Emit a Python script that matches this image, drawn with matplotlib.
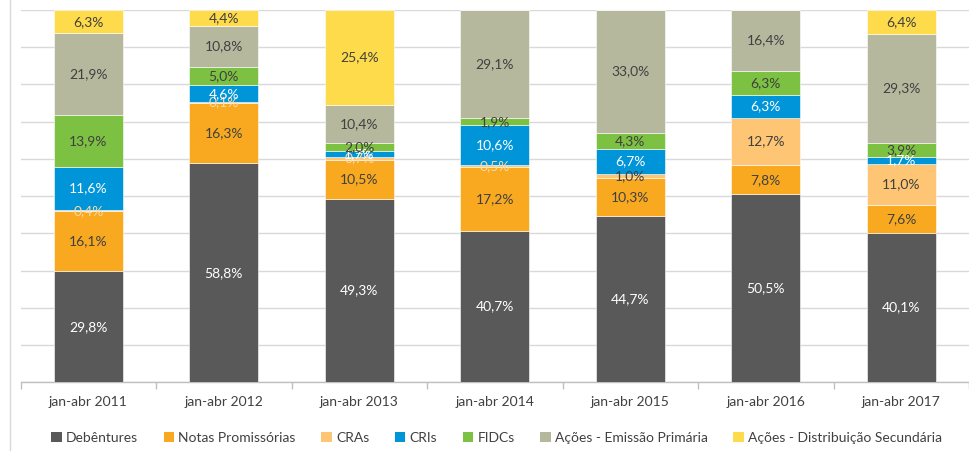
import matplotlib
matplotlib.use("Agg")
import matplotlib.pyplot as plt
from matplotlib.patches import Patch
from matplotlib.lines import Line2D
import numpy as np

categories = ["jan-abr 2011", "jan-abr 2012", "jan-abr 2013", "jan-abr 2014",
              "jan-abr 2015", "jan-abr 2016", "jan-abr 2017"]
series_names = ["Debêntures", "Notas Promissórias", "CRAs", "CRIs", "FIDCs",
                "Ações - Emissão Primária", "Ações - Distribuição Secundária"]
debentures = [29.8, 58.8, 49.3, 40.7, 44.7, 50.5, 40.1]
notas = [16.1, 16.3, 10.5, 17.2, 10.3, 7.8, 7.6]
cras = [0.4, 0.1, 0.7, 0.5, 1.0, 12.7, 11.0]
cris = [11.6, 4.6, 1.7, 10.6, 6.7, 6.3, 1.7]
fidcs = [13.9, 5.0, 2.0, 1.9, 4.3, 6.3, 3.9]
acoes_prim = [21.9, 10.8, 10.4, 29.1, 33.0, 16.4, 29.3]
acoes_sec = [6.3, 4.4, 25.4, 0.0, 0.0, 0.0, 6.4]

series = [debentures, notas, cras, cris, fidcs, acoes_prim, acoes_sec]
colors = ["#595959", "#F8A91F", "#FDC574", "#0095D9", "#7DC142", "#B6B89E", "#FEDB4B"]
label_colors = ["white", "#404040", "#404040", "white", "#404040", "#404040", "#404040"]
small_cra_color = "#FDD9A6"

plt.rcParams['font.family'] = ['Lato', 'DejaVu Sans']

fig = plt.figure(figsize=(9.7, 4.51), dpi=100)
ax = fig.add_axes([0.0213, 1 - 382.3 / 451, 0.999 - 0.0213, (382.3 - 10) / 451])

x = np.arange(len(categories))
bottom = np.zeros(len(categories))
for i, (vals, c) in enumerate(zip(series, colors)):
    v = np.array(vals) / 100.0
    ax.bar(x, v, bottom=bottom, width=0.51, color=c, edgecolor="white", linewidth=0.4, zorder=3)
    for j in range(len(categories)):
        if vals[j] > 0:
            tc = label_colors[i]
            if i == 2 and vals[j] < 1.0:
                tc = small_cra_color
            ax.text(x[j], bottom[j] + v[j] / 2, f"{vals[j]:.1f}%".replace(".", ","),
                    ha="center", va="center", color=tc, fontsize=10, zorder=4)
    bottom += v

ax.set_xlim(-0.5, len(categories) - 0.5)
ax.set_ylim(0, 1.0)
ax.set_yticks(np.arange(0, 1.01, 0.1))
ax.yaxis.grid(True, color="#D9D9D9", linewidth=1, zorder=0)
ax.tick_params(axis="y", left=False, labelleft=False)
ax.set_xticks(x)
ax.set_xticklabels(categories, fontsize=10, color="#404040")
ax.tick_params(axis="x", length=0, pad=10)
ax.set_xticks(np.arange(-0.5, len(categories)), minor=True)
ax.tick_params(axis="x", which="minor", length=5, color="#BFBFBF", width=1)
for s in ["top", "right", "left"]:
    ax.spines[s].set_visible(False)
ax.spines["bottom"].set_color("#BFBFBF")
ax.spines["bottom"].set_linewidth(1)

fig.add_artist(Line2D([10.5 / 970, 10.5 / 970], [0, 1], color="#D9D9D9", linewidth=1))

handles = [Patch(facecolor=c, edgecolor="none") for c in colors]
fig.legend(handles, series_names, loc="center", bbox_to_anchor=(0.512, 1 - 438 / 451),
           ncol=7, frameon=False, fontsize=10, handlelength=0.75, handleheight=0.75,
           handletextpad=0.3, columnspacing=1.85, labelcolor="#404040")

fig.savefig("out.png", dpi=100)
